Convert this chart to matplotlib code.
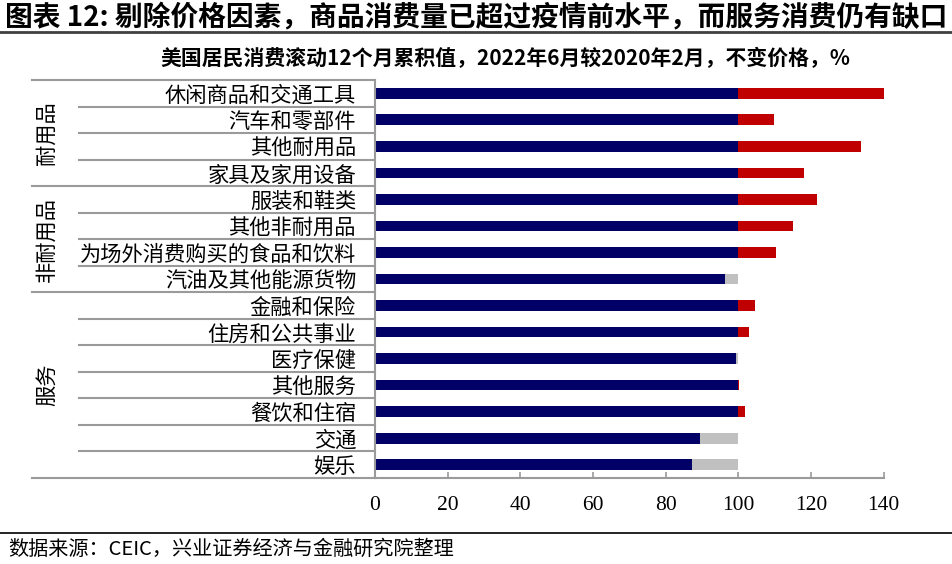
import matplotlib
matplotlib.use('Agg')
import matplotlib.pyplot as plt

plt.rcParams['font.family'] = ['Noto Sans CJK SC', 'DejaVu Sans']

categories = ['休闲商品和交通工具', '汽车和零部件', '其他耐用品', '家具及家用设备',
              '服装和鞋类', '其他非耐用品', '为场外消费购买的食品和饮料', '汽油及其他能源货物',
              '金融和保险', '住房和公共事业', '医疗保健', '其他服务', '餐饮和住宿', '交通', '娱乐']
values = [140.3, 109.9, 133.7, 118.1, 121.7, 115.0, 110.5, 96.3,
          104.6, 102.9, 99.4, 100.1, 101.8, 89.6, 87.3]
groups = [('耐用品', 0, 3), ('非耐用品', 4, 7), ('服务', 8, 14)]
xticks = [0, 20, 40, 60, 80, 100, 120, 140]

navy = '#000066'
red = '#C00000'
grey = '#C0C0C0'
line_grey = '#9A9A9A'

W, H = 952, 564
fig = plt.figure(figsize=(W / 100, H / 100), dpi=100)

x0, x1 = 374.8, 883.7
y_top, y_bot = 80, 478
ax = fig.add_axes([x0 / W, (H - y_bot) / H, (x1 - x0) / W, (y_bot - y_top) / H])

ys = list(range(len(categories)))
base = [min(v, 100) for v in values]
over = [v - 100 if v > 100 else 0 for v in values]
gap = [100 - v if v < 100 else 0 for v in values]

ax.barh(ys, base, height=0.4, color=navy)
ax.barh(ys, over, left=100, height=0.4, color=red)
ax.barh(ys, gap, left=base, height=0.4, color=grey)

ax.set_xlim(0, 140)
ax.set_ylim(len(categories) - 0.5, -0.5)
ax.set_xticks(xticks)
ax.set_xticklabels([str(t) for t in xticks], fontfamily='Liberation Serif', fontsize=15.5)
ax.set_yticks(ys)
ax.set_yticklabels(categories, fontsize=15.3)
ax.tick_params(axis='y', length=0, pad=13.5)
ax.tick_params(axis='x', direction='in', length=4, color=line_grey, width=1.2, pad=13)

for s in ['top', 'right']:
    ax.spines[s].set_visible(False)
for s in ['left', 'bottom']:
    ax.spines[s].set_color(line_grey)
    ax.spines[s].set_linewidth(1.5)

# table lines left of the axis
tr = ax.get_yaxis_transform()
short_x = (79 - x0) / (x1 - x0)
long_x = (32 - x0) / (x1 - x0)
group_edges = [-0.5, 3.5, 7.5, len(categories) - 0.5]
for i in range(len(categories) + 1):
    yy = i - 0.5
    xs = long_x if yy in group_edges else short_x
    ax.plot([xs, 0], [yy, yy], transform=tr, color=line_grey, lw=1.5, clip_on=False)

for name, a, b in groups:
    ax.text((47 - x0) / (x1 - x0), (a + b) / 2, name, transform=tr, rotation=90,
            ha='center', va='center', fontsize=15.3)

# header and footer
fig.text(5 / W, 1 - 17 / H, '图表 12: 剔除价格因素，商品消费量已超过疫情前水平，而服务消费仍有缺口',
         fontsize=20, fontweight='bold', ha='left', va='center')
fig.add_artist(plt.Line2D([0, 1], [1 - 32 / H, 1 - 32 / H], color='#404040', lw=2))
fig.text(505 / W, 1 - 58 / H, '美国居民消费滚动12个月累积值，2022年6月较2020年2月，不变价格，%',
         fontsize=15, fontweight='bold', ha='center', va='center')
fig.add_artist(plt.Line2D([0, 1], [1 - 533 / H, 1 - 533 / H], color='black', lw=1.2))
fig.text(8 / W, 1 - 549 / H, '数据来源：CEIC，兴业证券经济与金融研究院整理',
         fontsize=14.5, ha='left', va='center')

fig.savefig('out.png', dpi=100)
